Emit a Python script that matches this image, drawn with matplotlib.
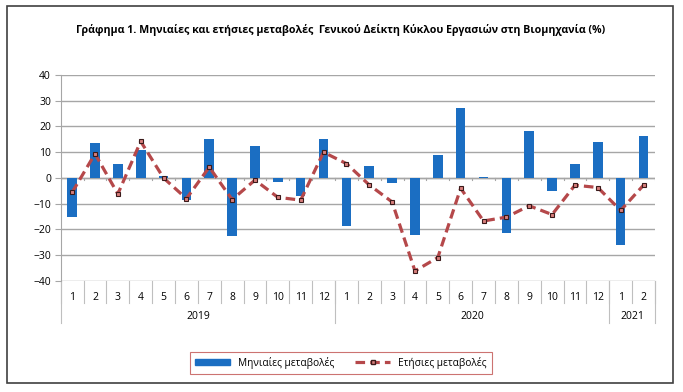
import numpy as np
import matplotlib.pyplot as plt
from matplotlib.patches import Rectangle, Patch
from matplotlib.lines import Line2D
import matplotlib.transforms as mtransforms

plt.rcParams['font.family'] = ['Open Sans', 'DejaVu Sans']

# --- δεδομένα ---
months = [str(m) for m in range(1, 13)] + [str(m) for m in range(1, 13)] + ['1', '2']
years = ['2019', '2020', '2021']
year_counts = [12, 12, 2]

monthly = [-15.1, 13.4, 5.3, 10.8, 0.6, -8.4, 15.0, -22.6, 12.3, -1.7, -7.1, 15.0,
           -18.6, 4.5, -2.1, -22.1, 8.8, 27.3, 0.3, -21.3, 18.1, -5.1, 5.3, 13.8,
           -25.9, 16.5]
annual = [-5.6, 9.4, -6.2, 14.2, 0.0, -8.0, 4.2, -8.4, -0.8, -7.5, -8.6, 10.0,
          5.6, -2.7, -9.3, -36.1, -30.9, -4.0, -16.7, -15.2, -10.8, -14.2, -2.8, -3.7,
          -12.6, -2.8]

title = 'Γράφημα 1. Μηνιαίες και ετήσιες μεταβολές  Γενικού Δείκτη Κύκλου Εργασιών στη Βιομηχανία (%)'
lbl_monthly = 'Μηνιαίες μεταβολές'
lbl_annual = 'Ετήσιες μεταβολές'

bar_color = '#1B6EC2'
line_color = '#B5484A'

fig = plt.figure(figsize=(6.83, 3.92), dpi=100)
ax = fig.add_axes([0.0889, 0.2832, 0.870, 0.5255])

x = np.arange(len(months))
ax.bar(x, monthly, width=0.42, color=bar_color, zorder=2)
ax.plot(x, annual, color=line_color, linestyle=(0, (3, 1.6)), linewidth=2.3,
        marker='s', markersize=3.5, markerfacecolor='#D87F7C', markeredgecolor='#3A1A1A',
        markeredgewidth=0.8, zorder=3)

ax.set_xlim(-0.5, len(months) - 0.5)
ax.set_ylim(-40, 40)
ax.set_yticks(np.arange(-40, 41, 10))
ax.yaxis.grid(True, color='#A6A6A6', linewidth=1)
ax.set_axisbelow(True)
ax.tick_params(axis='y', labelsize=7.5, length=4, color='#A6A6A6', pad=3)
ax.set_xticks([])
for s in ['top', 'right', 'bottom']:
    ax.spines[s].set_visible(False)
ax.spines['left'].set_color('#A6A6A6')

# άξονας στο μηδέν με μικρές υποδιαιρέσεις
ax.axhline(0, color='#A6A6A6', linewidth=1, zorder=1)
for b in np.arange(-0.5, len(months), 1.0):
    ax.plot([b, b], [0, -0.8], color='#A6A6A6', linewidth=0.8, zorder=1)

# ετικέτες κατηγοριών
trans = mtransforms.blended_transform_factory(ax.transData, ax.transAxes)
for i, m in enumerate(months):
    ax.text(i, -0.078, m, transform=trans, ha='center', va='center', fontsize=7.5)
for b in np.arange(-0.5, len(months), 1.0):
    ax.plot([b, b], [0, -0.105], transform=trans, color='#BFBFBF', linewidth=0.8, clip_on=False)

start = -0.5
for yr, n in zip(years, year_counts):
    ax.plot([start, start], [0, -0.205], transform=trans, color='#BFBFBF', linewidth=0.8, clip_on=False)
    ax.text(start + n / 2, -0.17, yr, transform=trans, ha='center', va='center', fontsize=7.5)
    start += n
ax.plot([start, start], [0, -0.205], transform=trans, color='#BFBFBF', linewidth=0.8, clip_on=False)

fig.text(0.499, 0.923, title, ha='center', va='center', fontsize=7.7, fontweight='bold')

handles = [Patch(facecolor=bar_color, edgecolor=bar_color),
           Line2D([0], [0], color=line_color, linestyle=(0, (3, 1.6)), linewidth=2.3,
                  marker='s', markersize=3.5, markerfacecolor='#D87F7C', markeredgecolor='#3A1A1A')]
leg = fig.legend(handles, [lbl_monthly, lbl_annual], loc='center', bbox_to_anchor=(0.499, 0.075),
                 ncol=2, fontsize=7.3, fancybox=False, frameon=True, handlelength=3.5,
                 handleheight=0.6, columnspacing=2.0, borderpad=0.5)
leg.get_frame().set_edgecolor('#C0504D')
leg.get_frame().set_linewidth(0.8)

fig.patches.append(Rectangle((0.0102, 0.023), 0.975, 0.962, transform=fig.transFigure,
                             fill=False, edgecolor='#404040', linewidth=1.2))

fig.savefig('out.png', dpi=100)
